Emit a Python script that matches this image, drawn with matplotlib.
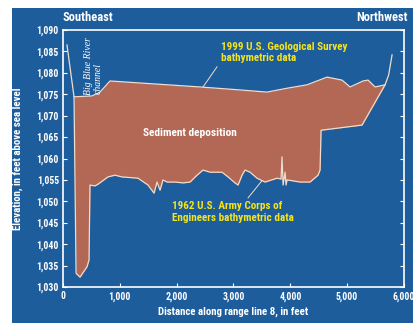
import matplotlib
matplotlib.use("Agg")
import matplotlib.pyplot as plt, numpy as np
from matplotlib.patches import Rectangle
from matplotlib import font_manager

# 1999 USGS bathymetry (distance in ft, elevation in ft)
dist_1999 = [70, 194, 510, 651, 827, 1390, 2411, 3120, 3590, 3942, 4294, 4646,
             4910, 5051, 5280, 5368, 5491, 5667, 5730, 5790]
elev_1999 = [1086.5, 1074.4, 1074.6, 1075.5, 1078.1, 1077.6, 1076.7, 1076.0, 1075.5,
             1076.4, 1077.2, 1079.0, 1078.3, 1076.7, 1078.1, 1078.3, 1076.7, 1077.2,
             1079.5, 1084.2]

# 1962 Corps of Engineers bathymetry
dist_1962 = [194, 230, 299, 422, 458, 475, 563, 616, 792, 915, 1038, 1320, 1496,
             1602, 1654, 1707, 1760, 1830, 1971, 2112, 2235, 2358, 2464, 2587, 2798,
             2904, 3027, 3080, 3150, 3203, 3291, 3414, 3555, 3766, 3837, 3854, 3872,
             3907, 3925, 3942, 4171, 4347, 4488, 4523, 4541, 5262, 5667]
elev_1962 = [1074.4, 1033.2, 1032.3, 1034.7, 1036.3, 1053.8, 1053.6, 1054.0, 1055.7,
             1056.1, 1055.7, 1055.4, 1053.8, 1051.9, 1054.5, 1052.6, 1055.0, 1054.5,
             1054.5, 1054.3, 1054.5, 1056.1, 1057.3, 1056.8, 1056.8, 1055.7, 1054.3,
             1053.8, 1056.1, 1057.3, 1056.8, 1055.4, 1054.5, 1055.4, 1055.2, 1060.4,
             1053.8, 1056.8, 1053.8, 1055.0, 1054.5, 1054.5, 1056.1, 1057.3, 1066.6,
             1067.8, 1077.2]

x_ticks = [0, 1000, 2000, 3000, 4000, 5000, 6000]
y_ticks = [1030, 1035, 1040, 1045, 1050, 1055, 1060, 1065, 1070, 1075, 1080, 1085, 1090]

BLUE = "#1d5d9c"
FILL = "#b36855"
EDGE = "#f2dccb"
YELLOW = "#f4e41c"

# pick a narrow sans if one is around
names = set(f.name for f in font_manager.fontManager.ttflist)
narrow = [n for n in ["Liberation Sans Narrow", "Roboto Condensed", "DejaVu Sans Condensed",
                      "Open Sans Condensed"] if n in names]
FONT = narrow + ["DejaVu Sans"]

plt.rcParams["font.family"] = FONT
plt.rcParams["font.weight"] = "bold"
plt.rcParams["axes.labelweight"] = "bold"
plt.rcParams["font.stretch"] = "condensed"

fig = plt.figure(figsize=(4.14, 3.23), dpi=100)
fig.patch.set_facecolor("white")
# blue panel behind the chart, white margin left and top
fig.patches.append(Rectangle((12 / 414, 0), 1, 315 / 323, transform=fig.transFigure,
                             facecolor=BLUE, edgecolor="none", zorder=-10))

ax = fig.add_axes([63 / 414, 1 - 287 / 323, 341 / 414, 257 / 323])
ax.set_facecolor(BLUE)
ax.set_xlim(0, 6000)
ax.set_ylim(1030, 1090)

# sediment between the two surveys
xs = np.union1d(dist_1999, dist_1962)
xs = xs[(xs >= dist_1962[0]) & (xs <= dist_1962[-1])]
top = np.interp(xs, dist_1999, elev_1999)
bot = np.interp(xs, dist_1962, elev_1962)
ax.fill_between(xs, bot, top, color=FILL, lw=0, zorder=2)
ax.plot(dist_1999, elev_1999, color=EDGE, lw=0.9, zorder=3)
ax.plot(dist_1962, elev_1962, color=EDGE, lw=0.9, zorder=3)

for s in ax.spines.values():
    s.set_color("white")
    s.set_linewidth(1.2)
ax.set_xticks(x_ticks)
ax.set_yticks(y_ticks)
ax.set_xticklabels(["{:,}".format(v) for v in x_ticks], fontweight="bold")
ax.set_yticklabels(["{:,}".format(v) for v in y_ticks], fontweight="bold")
ax.tick_params(direction="in", length=3, width=0.8, colors="white", labelsize=7,
               right=True, top=False, pad=3)
ax.set_xlabel("Distance along range line 8, in feet", color="white", fontsize=7.8,
              fontweight="bold", labelpad=4)
ax.set_ylabel("Elevation, in feet above sea level", color="white", fontsize=7.8,
              fontweight="bold", labelpad=10)

ax.text(0, 1.025, "Southeast", transform=ax.transAxes, color="white", fontsize=9,
        fontweight="bold", ha="left", va="bottom")
ax.text(1.01, 1.025, "Northwest", transform=ax.transAxes, color="white", fontsize=9,
        fontweight="bold", ha="right", va="bottom")

ax.text(440, 1088.4, "Big Blue River", color="white", fontsize=7, rotation=90,
        family="Liberation Serif", style="italic", weight="normal", stretch="normal",
        ha="center", va="top")
ax.text(620, 1082.4, "channel", color="white", fontsize=7, rotation=90,
        family="Liberation Serif", style="italic", weight="normal", stretch="normal",
        ha="center", va="top")

ax.text(2780, 1084.8, "1999 U.S. Geological Survey\nbathymetric data", color=YELLOW,
        fontsize=8, fontweight="bold", ha="left", va="center", linespacing=1.15)
ax.plot([2710, 2464], [1081.4, 1076.7], color=EDGE, lw=0.7, zorder=3)

ax.text(2240, 1066.0, "Sediment deposition", color="white", fontsize=8.2,
        fontweight="bold", ha="center", va="center")

ax.text(1920, 1047.5, "1962 U.S. Army Corps of\nEngineers bathymetric data",
        color=YELLOW, fontsize=8, fontweight="bold", ha="left", va="center",
        linespacing=1.15)
ax.plot([3256, 3500], [1050.8, 1054.8], color=EDGE, lw=0.7, zorder=3)

fig.savefig("out.png", dpi=100, facecolor=fig.get_facecolor())
